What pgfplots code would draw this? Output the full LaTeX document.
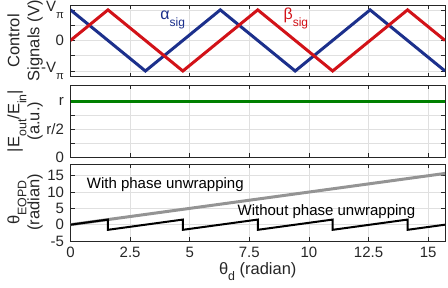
\documentclass[border=0pt]{standalone}
\usepackage{pgfplots}
\pgfplotsset{compat=1.18}
\usepackage{fontspec}
\setmainfont{Liberation Sans}
\usepackage{graphicx}
\definecolor{sigblue}{RGB}{28,48,140}
\definecolor{sigred}{RGB}{210,18,24}
\definecolor{siggreen}{RGB}{0,128,0}
\definecolor{axgray}{RGB}{38,38,38}
\newcommand{\sub}[1]{\raisebox{-0.42em}{\scalebox{0.75}{#1}}}
\pgfplotsset{
 myax/.style={
  scale only axis, width=374.5bp,
  xmin=0, xmax=15.70796,
  xtick={0,2.5,5,7.5,10,12.5,15},
  grid=major, major grid style={color=black!12, line width=0.5bp},
  axis line style={color=axgray, line width=0.7bp},
  tick style={color=axgray, line width=0.7bp},
  tick align=inside,
  major tick length=4bp,
  tick label style={font=\fontsize{15bp}{18bp}\selectfont, color=axgray},
  /pgf/number format/assume math mode=true,
  yticklabel style={xshift=-3bp},
  xticklabel style={yshift=-3bp},
  label style={font=\fontsize{16.5bp}{20bp}\selectfont, color=axgray},
  ylabel style={at={(axis description cs:-0.07343,0.5)}, anchor=south, inner sep=0pt, align=center},
 }
}
\begin{document}
\begin{tikzpicture}
\useasboundingbox (0,0) rectangle (448bp,-288bp);
% top
\begin{axis}[myax, at={(70.5bp,-5bp)}, anchor=north west, height=71.5bp,
  ymin=-1.18, ymax=1.16,
  ytick={-1,-0.5,0,0.5,1}, yticklabels={{-V\sub{π}},{},{0},{},{V\sub{π}}},
  xticklabels={},
  ylabel={Control\\Signals (V)}]
\addplot[sigblue, line width=3bp] coordinates {(0,1) (3.14159,-1) (6.28319,1) (9.42478,-1) (12.56637,1) (15.70796,-1)};
\addplot[sigred, line width=3bp] coordinates {(0,0) (1.5708,1) (4.71239,-1) (7.85398,1) (10.99557,-1) (14.13717,1) (15.70796,0)};
\node[anchor=base west, text=sigblue, font=\fontsize{16bp}{18bp}\selectfont, inner sep=0pt] at (axis cs:3.76,0.68) {α\sub{sig}};
\node[anchor=base west, text=sigred, font=\fontsize{16bp}{18bp}\selectfont, inner sep=0pt] at (axis cs:8.93,0.68) {β\sub{sig}};
\end{axis}
% middle
\begin{axis}[myax, at={(70.5bp,-85bp)}, anchor=north west, height=72bp,
  ymin=0, ymax=1.29,
  ytick={0,0.25,0.5,0.75,1}, yticklabels={{0},{},{r/2},{},{r}},
  xticklabels={},
  ylabel={|E\sub{out}/E\sub{in}|\\(a.u.)}]
\addplot[siggreen, line width=3.2bp] coordinates {(0,1) (15.70796,1)};
\end{axis}
% bottom
\begin{axis}[myax, at={(70.5bp,-164bp)}, anchor=north west, height=77bp,
  ymin=-5, ymax=18.6,
  ytick={-5,0,5,10,15},
  xticklabels={0,2.5,5,7.5,10,12.5,15},
  ylabel={θ\sub{EOPD}\\(radian)},
  xlabel={θ\sub{d} (radian)},
  xlabel style={at={(axis description cs:0.5,0)}, anchor=base, yshift=-33bp, inner sep=0pt}]
\addplot[black!42, line width=3bp] coordinates {(0,0) (15.70796,15.70796)};
\addplot[black, line width=2bp] coordinates {(0,0) (1.5708,1.5708) (1.5708,-1.5708) (4.71239,1.5708) (4.71239,-1.5708) (7.85398,1.5708) (7.85398,-1.5708) (10.99557,1.5708) (10.99557,-1.5708) (14.13717,1.5708) (14.13717,-1.5708) (15.70796,0)};
\node[anchor=base west, text=black, font=\fontsize{15bp}{18bp}\selectfont, inner sep=0pt] at (axis cs:0.68,11.1) {With phase unwrapping};
\node[anchor=base west, text=black, font=\fontsize{15bp}{18bp}\selectfont, inner sep=0pt] at (axis cs:7.0,2.9) {Without phase unwrapping};
\end{axis}
\end{tikzpicture}
\end{document}
